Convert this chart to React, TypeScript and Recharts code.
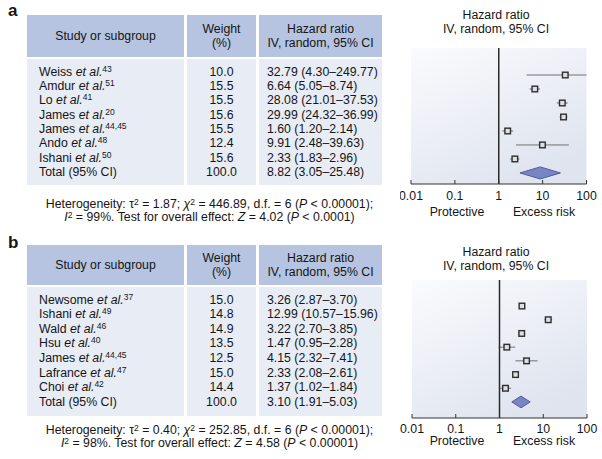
import React from "react";
import {
  ComposedChart,
  Scatter,
  Area,
  XAxis,
  YAxis,
  CartesianGrid,
  ReferenceLine,
} from "recharts";

// panel a
const studiesA = ["Weiss", "Amdur", "Lo", "James", "James", "Ando", "Ishani"];
const refsA = ["43", "51", "41", "20", "44,45", "48", "50"];
const weightsA = [10.0, 15.5, 15.5, 15.6, 15.5, 12.4, 15.6];
const hrA = [32.79, 6.64, 28.08, 29.99, 1.6, 9.91, 2.33];
const lowA = [4.3, 5.05, 21.01, 24.32, 1.2, 2.48, 1.83];
const highA = [249.77, 8.74, 37.53, 36.99, 2.14, 39.63, 2.96];
const totalA = [8.82, 3.05, 25.48]; // hr, low, high
const hetA = ["1.87", "446.89", "6", "0.00001"]; // tau2, chi2, df, P
const overallA = ["99", "4.02", "0.0001"]; // I2, Z, P

// panel b
const studiesB = ["Newsome", "Ishani", "Wald", "Hsu", "James", "Lafrance", "Choi"];
const refsB = ["37", "49", "46", "40", "44,45", "47", "42"];
const weightsB = [15.0, 14.8, 14.9, 13.5, 12.5, 15.0, 14.4];
const hrB = [3.26, 12.99, 3.22, 1.47, 4.15, 2.33, 1.37];
const lowB = [2.87, 10.57, 2.7, 0.95, 2.32, 2.08, 1.02];
const highB = [3.7, 15.96, 3.85, 2.28, 7.41, 2.61, 1.84];
const totalB = [3.1, 1.91, 5.03];
const hetB = ["0.40", "252.85", "6", "0.00001"];
const overallB = ["98", "4.58", "0.00001"];

const axisTicks = [0.01, 0.1, 1, 10, 100];

const fmt = (v: number) => v.toFixed(2);
const sup = (s: string, raise = 4.5) => (
  <sup style={{ fontSize: 8.5, lineHeight: 0, verticalAlign: raise + "px" }}>{s}</sup>
);

const HEAD_BG = "#b6c4e1";
const BODY_BG = "#e8ecf5";
const cols = [
  { l: 27, r: 184 },
  { l: 187, r: 256 },
  { l: 259, r: 382 },
];

function Table({
  y0,
  headH,
  bodyEnd,
  rowH,
  studies,
  refs,
  weights,
  hr,
  low,
  high,
  total,
}: any) {
  const bodyTop = y0 + headH + 2;
  const pad = 13 - rowH / 2;
  const abs = (l: number, t: number, w: number, h: number, bg: string) => ({
    position: "absolute" as const,
    left: l,
    top: t,
    width: w,
    height: h,
    background: bg,
  });
  return (
    <>
      {cols.map((c, i) => (
        <div key={"h" + i} style={abs(c.l, y0, c.r - c.l, headH, HEAD_BG)} />
      ))}
      {cols.map((c, i) => (
        <div
          key={"b" + i}
          style={abs(c.l, bodyTop, c.r - c.l, bodyEnd - bodyTop, BODY_BG)}
        />
      ))}
      <div
        style={{
          position: "absolute",
          left: cols[0].l,
          width: cols[0].r - cols[0].l,
          top: y0,
          height: headH,
          lineHeight: headH + "px",
          textAlign: "center",
        }}
      >
        Study or subgroup
      </div>
      <div
        style={{
          position: "absolute",
          left: cols[1].l,
          width: cols[1].r - cols[1].l,
          top: y0 + headH / 2 - 14,
          lineHeight: "14px",
          textAlign: "center",
        }}
      >
        Weight
        <br />
        (%)
      </div>
      <div
        style={{
          position: "absolute",
          left: cols[2].l,
          width: cols[2].r - cols[2].l,
          top: y0 + headH / 2 - 14,
          lineHeight: "14px",
          textAlign: "center",
          whiteSpace: "nowrap",
        }}
      >
        Hazard ratio
        <br />
        IV, random, 95% CI
      </div>
      <div
        style={{
          position: "absolute",
          left: cols[0].l + 12,
          top: bodyTop + pad,
          lineHeight: rowH + "px",
          whiteSpace: "nowrap",
        }}
      >
        {studies.map((s: string, i: number) => (
          <div key={i}>
            {s} <i>et al.</i>
            {sup(refs[i])}
          </div>
        ))}
        <div>Total (95% CI)</div>
      </div>
      <div
        style={{
          position: "absolute",
          left: cols[1].l,
          width: cols[1].r - cols[1].l,
          top: bodyTop + pad,
          lineHeight: rowH + "px",
          textAlign: "center",
        }}
      >
        {weights.map((w: number, i: number) => (
          <div key={i}>{w.toFixed(1)}</div>
        ))}
        <div>100.0</div>
      </div>
      <div
        style={{
          position: "absolute",
          left: cols[2].l + 8,
          top: bodyTop + pad,
          lineHeight: rowH + "px",
          whiteSpace: "nowrap",
        }}
      >
        {hr.map((v: number, i: number) => (
          <div key={i}>
            {fmt(v)} ({fmt(low[i])}–{fmt(high[i])})
          </div>
        ))}
        <div>
          {fmt(total[0])} ({fmt(total[1])}–{fmt(total[2])})
        </div>
      </div>
    </>
  );
}

function Stats({ top, het, overall }: any) {
  return (
    <div
      style={{
        position: "absolute",
        left: 37,
        width: 345,
        top,
        lineHeight: "13px",
        textAlign: "center",
        whiteSpace: "nowrap",
      }}
    >
      <div>
        Heterogeneity: τ{sup("2", 3.5)} = {het[0]}; <i>χ</i>
        {sup("2", 3.5)} = {het[1]}, d.f. = {het[2]} (<i>P</i> &lt; {het[3]});
      </div>
      <div>
        <i>I</i>
        {sup("2", 3.5)} = {overall[0]}%. Test for overall effect: <i>Z</i> ={" "}
        {overall[1]} (<i>P</i> &lt; {overall[2]})
      </div>
    </div>
  );
}

const Square = (p: any) => (
  <rect
    x={p.cx - 2.8}
    y={p.cy - 2.8}
    width={5.6}
    height={5.6}
    fill="#dcdfe6"
    stroke="#2e2e2e"
    strokeWidth={1.4}
  />
);

function Forest({
  left,
  top,
  margin,
  domainY,
  tickMargin,
  hr,
  low,
  high,
  total,
  gradId,
}: any) {
  const rows = hr.map((v: number, i: number) => ({
    x: v,
    y: i,
    low: low[i],
    high: high[i],
  }));
  const t = hr.length;
  const diamond = [
    { x: total[1], band: [t, t] },
    { x: total[0], band: [t - 0.43, t + 0.43] },
    { x: total[2], band: [t, t] },
  ];
  return (
    <div style={{ position: "absolute", left, top }}>
      <ComposedChart width={200} height={190} margin={margin} data={diamond}>
        <defs>
          <linearGradient id={gradId} x1="0" y1="0" x2="0.6" y2="1">
            <stop offset="0%" stopColor="#fafbfd" />
            <stop offset="100%" stopColor="#dfe4ef" />
          </linearGradient>
        </defs>
        <CartesianGrid
          horizontal={false}
          vertical={false}
          fill={`url(#${gradId})`}
          stroke="none"
        />
        <XAxis
          type="number"
          dataKey="x"
          scale="log"
          domain={[0.01, 100]}
          ticks={axisTicks}
          interval={0}
          allowDataOverflow
          height={30}
          tickSize={-4}
          tickMargin={tickMargin}
          tick={{ fontSize: 12.3, fill: "#151515" }}
          axisLine={{ stroke: "#333" }}
          tickLine={{ stroke: "#333" }}
        />
        <YAxis
          type="number"
          dataKey="y"
          domain={domainY}
          reversed
          hide
          allowDataOverflow
        />
        {rows.map((r: any, i: number) => (
          <ReferenceLine
            key={i}
            segment={[
              { x: r.low, y: r.y },
              { x: r.high, y: r.y },
            ]}
            stroke="#707070"
            strokeWidth={1}
            ifOverflow="hidden"
          />
        ))}
        <ReferenceLine x={1} stroke="#2a2a2a" strokeWidth={1.5} />
        <Area
          type="linear"
          dataKey="band"
          fill="#7884c4"
          fillOpacity={1}
          stroke="#4f5ca0"
          strokeWidth={1}
          isAnimationActive={false}
        />
        <Scatter data={rows} shape={Square} isAnimationActive={false} />
      </ComposedChart>
    </div>
  );
}

function ForestTitle({ top }: { top: number }) {
  return (
    <div
      style={{
        position: "absolute",
        left: 436,
        width: 120,
        top,
        lineHeight: "14px",
        textAlign: "center",
        whiteSpace: "nowrap",
      }}
    >
      Hazard ratio
      <br />
      IV, random, 95% CI
    </div>
  );
}

function RiskLabels({ y }: { y: number }) {
  const s = {
    position: "absolute" as const,
    top: y - 7,
    lineHeight: "14px",
    width: 80,
    textAlign: "center" as const,
  };
  return (
    <>
      <div style={{ ...s, left: 457 - 40 }}>Protective</div>
      <div style={{ ...s, left: 544 - 40 }}>Excess risk</div>
    </>
  );
}

export default function App() {
  return (
    <div
      style={{
        position: "absolute",
        left: 0,
        top: 0,
        width: 602,
        height: 459,
        background: "#fff",
        fontFamily: '"Liberation Sans", Arial, sans-serif',
        fontSize: 12.3,
        color: "#151515",
        overflow: "hidden",
      }}
    >
      <div
        style={{
          position: "absolute",
          left: 8,
          top: 1.6,
          fontSize: 17,
          lineHeight: "17px",
          fontWeight: "bold",
        }}
      >
        a
      </div>
      <Table
        y0={15}
        headH={42}
        bodyEnd={185}
        rowH={14.3}
        studies={studiesA}
        refs={refsA}
        weights={weightsA}
        hr={hrA}
        low={lowA}
        high={highA}
        total={totalA}
      />
      <Stats top={197.5} het={hetA} overall={overallA} />
      <ForestTitle top={8} />
      <Forest
        left={400}
        top={40}
        margin={{ top: 8, left: 11, right: 13.5, bottom: 16 }}
        domainY={[-1.93, 7.79]}
        tickMargin={11}
        hr={hrA}
        low={lowA}
        high={highA}
        total={totalA}
        gradId="bgA"
      />
      <RiskLabels y={212} />

      <div
        style={{
          position: "absolute",
          left: 8,
          top: 233.6,
          fontSize: 17,
          lineHeight: "17px",
          fontWeight: "bold",
        }}
      >
        b
      </div>
      <Table
        y0={245}
        headH={40}
        bodyEnd={416}
        rowH={14.6}
        studies={studiesB}
        refs={refsB}
        weights={weightsB}
        hr={hrB}
        low={lowB}
        high={highB}
        total={totalB}
      />
      <Stats top={423.5} het={hetB} overall={overallB} />
      <ForestTitle top={245} />
      <Forest
        left={400}
        top={270}
        margin={{ top: 10, left: 12, right: 13, bottom: 12 }}
        domainY={[-1.9, 8.17]}
        tickMargin={9.8}
        hr={hrB}
        low={lowB}
        high={highB}
        total={totalB}
        gradId="bgB"
      />
      <RiskLabels y={441} />
    </div>
  );
}
